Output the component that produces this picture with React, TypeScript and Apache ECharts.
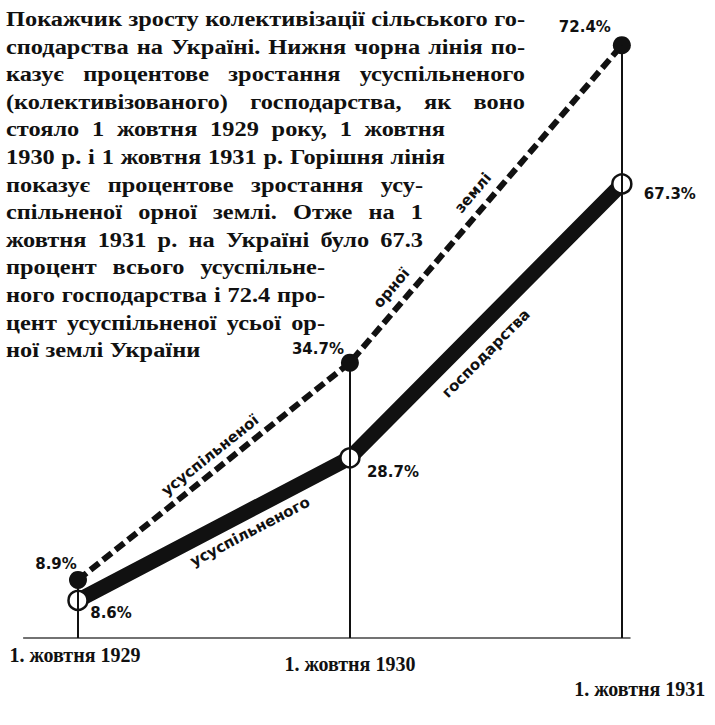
import React, { useEffect, useRef } from "react";
import * as echarts from "echarts";

// ---- data ----
const years = [1929, 1930, 1931];
const dateLabels = ["1. жовтня 1929", "1. жовтня 1930", "1. жовтня 1931"];
const farmValues = [8.6, 28.7, 67.3]; // усуспільнене господарство (%)
const landValues = [8.9, 34.7, 72.4]; // усуспільнена орна земля (%)
const farmLabels = ["8.6%", "28.7%", "67.3%"];
const landLabels = ["8.9%", "34.7%", "72.4%"];
const titleLines = [
  "Покажчик зросту колективізації сільського го-",
  "сподарства на Україні. Нижня чорна лінія по-",
  "казує процентове зростання усуспільненого",
  "(колективізованого) господарства, як воно",
  "стояло 1 жовтня 1929 року, 1 жовтня",
  "1930 р. і 1 жовтня 1931 р. Горішня лінія",
  "показує процентове зростання усу-",
  "спільненої орної землі. Отже на 1",
  "жовтня 1931 р. на Україні було 67.3",
  "процент всього усуспільне-",
  "ного господарства і 72.4 про-",
  "цент усуспільненої усьої ор-",
  "ної землі України",
];
const lineTexts = ["усуспільненого", "господарства", "усуспільненої", "орної", "землі"];

// ---- layout ----
const W = 715;
const H = 725;
const INK = "#111";
const TITLE_FONT = "Liberation Serif";
const TITLE_SIZE = 21;
const TITLE_LEFT = 6;
const TITLE_TOP = 19;
const TITLE_STEP = 27.6;
const TITLE_MIN_GAP = 6.5;
const titleRightEdges = [525, 525, 525, 525, 445, 445, 423, 423, 423, 325, 325, 325, 0];
// [seriesIndex, segment start index, t along segment, perpendicular offset (+ = above)]
const lineTextPlacement: [number, number, number, number][] = [
  [0, 0, 0.6, -19],
  [0, 1, 0.44, -23],
  [1, 0, 0.52, 15],
  [1, 1, 0.2, 17],
  [1, 1, 0.5, 17],
];
const farmLabelOffsets = [[33, 13], [43, 14], [48, 10]];
const landLabelOffsets = [[-22, -16], [-32, -14], [-37, -18]];
const FARM_MIN = 3.3;
const FARM_MAX = 89;
const LAND_MIN = 2;
const LAND_MAX = 74.2;

function buildTitle() {
  const canvas = document.createElement("canvas");
  const ctx = canvas.getContext("2d")!;
  ctx.font = `bold ${TITLE_SIZE}px "${TITLE_FONT}"`;
  const measureLine = (line: string) => line.split(" ").map((w) => ctx.measureText(w).width);
  // global horizontal glyph stretch: first line fits with normal word gaps
  const w0 = measureLine(titleLines[0]);
  const sum0 = w0.reduce((a, b) => a + b, 0);
  const globalScale = (titleRightEdges[0] - TITLE_LEFT - TITLE_MIN_GAP * (w0.length - 1)) / sum0;
  const out: any[] = [];
  titleLines.forEach((line, li) => {
    const words = line.split(" ");
    const widths = measureLine(line);
    const sumW = widths.reduce((a, b) => a + b, 0);
    const right = titleRightEdges[li];
    let scale = globalScale;
    let gap = TITLE_MIN_GAP;
    if (right > 0 && words.length > 1) {
      const target = right - TITLE_LEFT;
      gap = (target - sumW * scale) / (words.length - 1);
      if (gap < TITLE_MIN_GAP) {
        gap = TITLE_MIN_GAP;
        scale = (target - gap * (words.length - 1)) / sumW;
      }
    }
    let x = TITLE_LEFT;
    const y = TITLE_TOP + li * TITLE_STEP;
    words.forEach((w, wi) => {
      out.push({
        type: "text",
        x,
        y,
        scaleX: scale,
        silent: true,
        style: {
          text: w,
          fill: INK,
          fontFamily: TITLE_FONT,
          fontWeight: "bold",
          fontSize: TITLE_SIZE,
          align: "left",
          verticalAlign: "middle",
        },
      });
      x += widths[wi] * scale + gap;
    });
  });
  return out;
}

export default function App() {
  const ref = useRef<HTMLDivElement>(null);

  useEffect(() => {
    if (!ref.current) return;
    const chart = echarts.init(ref.current, null, { renderer: "svg", width: W, height: H });

    const pointLabelStyle = {
      show: true,
      position: "inside",
      color: INK,
      fontFamily: "DejaVu Sans",
      fontWeight: "bold",
      fontSize: 15,
    };
    const tickFont = { fontFamily: "Liberation Serif", fontWeight: "bold", fontSize: 20, color: INK };

    const option: any = {
      animation: false,
      backgroundColor: "#fff",
      grid: { left: 23.6, right: 85, top: 30, bottom: 87, containLabel: false },
      xAxis: {
        type: "value",
        min: 1928.8,
        max: 1931.03,
        axisLine: { show: true, lineStyle: { color: "#444", width: 1.5 } },
        axisTick: { show: false },
        splitLine: { show: false },
        axisLabel: {
          customValues: years,
          margin: 7,
          formatter: (v: number) => {
            const i = years.indexOf(Math.round(v));
            return i < 0 ? "" : `{t${i}|${dateLabels[i]}}`;
          },
          rich: {
            t0: { ...tickFont, padding: [0, 6, 0, 0] },
            t1: { ...tickFont, padding: [9, 0, 0, 0] },
            t2: { ...tickFont, padding: [34, 0, 0, 36] },
          },
        },
      },
      yAxis: [
        { type: "value", min: FARM_MIN, max: FARM_MAX, show: false, splitLine: { show: false } },
        { type: "value", min: LAND_MIN, max: LAND_MAX, show: false, splitLine: { show: false } },
      ],
      series: [
        {
          name: "усуспільнене господарство",
          type: "line",
          yAxisIndex: 0,
          z: 3,
          data: years.map((y, i) => ({
            value: [y, farmValues[i]],
            label: { offset: farmLabelOffsets[i] },
          })),
          symbol: "circle",
          symbolSize: 19,
          showSymbol: true,
          lineStyle: { color: INK, width: 15, join: "round", cap: "butt" },
          itemStyle: { color: "#fff", borderColor: INK, borderWidth: 2.5 },
          label: { ...pointLabelStyle, formatter: (p: any) => farmLabels[p.dataIndex] },
          silent: true,
        },
        {
          name: "усуспільнена орна земля",
          type: "line",
          yAxisIndex: 1,
          z: 4,
          data: years.map((y, i) => ({
            value: [y, landValues[i]],
            label: { offset: landLabelOffsets[i] },
          })),
          symbol: "circle",
          symbolSize: 18,
          showSymbol: true,
          lineStyle: { color: INK, width: 6, type: [11, 5], cap: "butt" },
          itemStyle: { color: INK },
          label: { ...pointLabelStyle, formatter: (p: any) => landLabels[p.dataIndex] },
          silent: true,
        },
        {
          name: "verticals",
          type: "line",
          yAxisIndex: 1,
          z: 1,
          data: years.map((y, i) => [y, landValues[i]]),
          showSymbol: false,
          symbol: "none",
          lineStyle: { width: 0, opacity: 0 },
          silent: true,
          markLine: {
            silent: true,
            symbol: ["none", "none"],
            label: { show: false },
            lineStyle: { color: INK, width: 2, type: "solid" },
            data: years.map((y, i) => [{ coord: [y, LAND_MIN] }, { coord: [y, landValues[i]] }]),
          },
        },
      ],
    };

    chart.setOption(option);

    const pts = [farmValues, landValues].map((vals, s) =>
      years.map((y, i) => chart.convertToPixel({ seriesIndex: s }, [y, vals[i]]) as number[])
    );

    const lineTextEls = lineTextPlacement.map(([s, seg, t, off], k) => {
      const a = pts[s][seg];
      const b = pts[s][seg + 1];
      const dx = b[0] - a[0];
      const dy = b[1] - a[1];
      const len = Math.hypot(dx, dy);
      const ux = dx / len;
      const uy = dy / len;
      const nx = uy;
      const ny = -ux;
      const cx = a[0] + dx * t + nx * off;
      const cy = a[1] + dy * t + ny * off;
      return {
        type: "text",
        x: cx,
        y: cy,
        rotation: Math.atan2(-dy, dx),
        silent: true,
        style: {
          text: lineTexts[k],
          fill: INK,
          fontFamily: "DejaVu Sans",
          fontWeight: "bold",
          fontSize: 15,
          align: "center",
          verticalAlign: "middle",
        },
      };
    });

    chart.setOption({ graphic: [...buildTitle(), ...lineTextEls] });

    return () => chart.dispose();
  }, []);

  return (
    <div
      ref={ref}
      style={{ position: "fixed", left: 0, top: 0, width: W, height: H, background: "#fff" }}
    />
  );
}
